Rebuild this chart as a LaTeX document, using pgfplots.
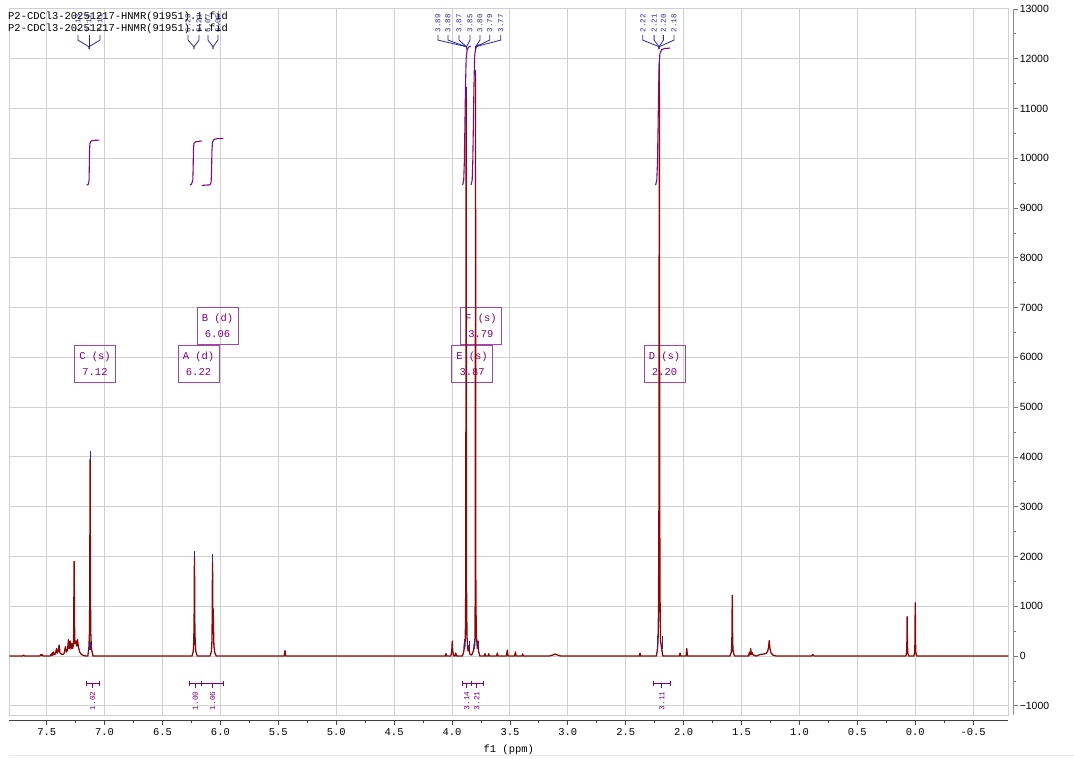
\documentclass[border=0pt]{standalone}
\usepackage{fontspec}
\setmainfont{Liberation Sans}
\setmonofont{Liberation Mono}
\usepackage{pgfplots}
\pgfplotsset{compat=1.18}
\definecolor{spec}{RGB}{140,8,8}
\definecolor{integ}{RGB}{128,10,128}
\definecolor{purp}{RGB}{128,0,128}
\definecolor{boxc}{RGB}{165,70,165}
\definecolor{blu}{RGB}{40,40,155}
\definecolor{gridc}{RGB}{208,208,208}
\tikzset{
  toplab/.style={rotate=90, anchor=west, text=blu, font=\ttfamily\fontsize{7.5}{9}\selectfont, inner sep=0.5bp},
  intlab/.style={rotate=90, anchor=east, text=purp, font=\ttfamily\fontsize{7.8}{9}\selectfont, inner sep=0.5bp},
  fork/.style={blu, line width=0.8bp},
  brk/.style={purp, line width=0.9bp},
  abox/.style={draw=boxc, line width=0.9bp, text=purp, font=\ttfamily\fontsize{10.5}{16}\selectfont, align=center, minimum width=41bp, minimum height=37bp, inner sep=1bp},
}
\begin{document}
\begin{tikzpicture}
\useasboundingbox (-9.3bp,-44bp) rectangle (1064.7bp,715bp);
\draw[gridc!50, line width=0.8bp] (-0.5bp,-40bp) -- (1064.7bp,-40bp);
\begin{axis}[
  at={(0,0)}, anchor=south west,
  scale only axis, width=999bp, height=706bp,
  x dir=reverse, xmin=-0.803, xmax=7.823, ymin=-1185, ymax=13000,
  axis x line=bottom, axis y line=right,
  axis x line shift=5bp, axis y line shift=5bp,
  axis line style={-},
  x axis line style={draw=black!75, line width=1bp},
  y axis line style={draw=black!45, line width=1.5bp},
  scaled y ticks=false, scaled x ticks=false,
  xtick={-0.5,0,0.5,1,1.5,2,2.5,3,3.5,4,4.5,5,5.5,6,6.5,7,7.5},
  xticklabels={-0.5,0.0,0.5,1.0,1.5,2.0,2.5,3.0,3.5,4.0,4.5,5.0,5.5,6.0,6.5,7.0,7.5},
  ytick={-1000,0,1000,2000,3000,4000,5000,6000,7000,8000,9000,10000,11000,12000,13000},
  yticklabels={−1000,0,1000,2000,3000,4000,5000,6000,7000,8000,9000,10000,11000,12000,13000},
  minor x tick num=1, minor y tick num=1,
  tick align=outside, major tick length=5bp, minor tick length=3bp,
  x tick style={draw=black!75, line width=0.8bp},
  y tick style={draw=black!55, line width=0.8bp},
  xticklabel style={font=\ttfamily\fontsize{10.5}{12}\selectfont},
  yticklabel style={font=\fontsize{10.5}{12}\selectfont, xshift=-2bp},
  xlabel={f1 (ppm)}, xlabel style={font=\ttfamily\fontsize{10.5}{12}\selectfont, yshift=-2bp},
  grid=major, major grid style={draw=gridc, line width=1bp},
  clip=false,
]
% plot frame
\draw[gridc, line width=1bp] (rel axis cs:0,0) rectangle (rel axis cs:1,1);

% annotation boxes
\node[abox] at (axis cs:7.083,5876) {C (s)\\7.12};
\node[abox] at (axis cs:6.189,5876) {A (d)\\6.22};
\node[abox] at (axis cs:6.025,6630) {B (d)\\6.06};
\node[abox] at (axis cs:3.827,5876) {E (s)\\3.87};
\node[abox] at (axis cs:3.750,6636) {F (s)\\3.79};
\node[abox] at (axis cs:2.165,5876) {D (s)\\2.20};

% spectrum
\addplot[spec, line width=1.3bp, line join=round] coordinates {
(7.823,0) (7.71,0) (7.70,20) (7.69,0) (7.56,0) (7.55,30) (7.545,8) (7.54,30) (7.53,0)
(7.47,0) (7.46,40) (7.455,10) (7.45,70) (7.445,20) (7.44,80) (7.435,30) (7.425,40)
(7.415,150) (7.408,60) (7.40,100) (7.393,220) (7.385,60) (7.375,40) (7.36,30) (7.35,50)
(7.338,190) (7.33,80) (7.32,120) (7.312,330) (7.305,150) (7.297,300) (7.29,140) (7.282,250)
(7.275,150) (7.268,250) (7.266,700) (7.2645,1500) (7.263,1900) (7.2615,1500) (7.260,700) (7.257,250) (7.248,300)
(7.242,200) (7.234,330) (7.226,180) (7.215,80) (7.20,30) (7.18,10) (7.16,0)
(7.145,0) (7.136,150) (7.131,450) (7.128,1200) (7.1265,2900) (7.125,3950) (7.1235,2900) (7.122,1200) (7.119,450) (7.114,150) (7.10,0)
(6.245,0) (6.234,100) (6.230,300) (6.227,700) (6.2255,1500) (6.224,1990) (6.2225,1500) (6.221,700) (6.218,300) (6.213,100) (6.20,0)
(6.09,0) (6.077,100) (6.073,300) (6.071,700) (6.0695,1400) (6.068,1890) (6.0665,1400) (6.065,800) (6.0635,900) (6.062,950) (6.060,600) (6.056,200) (6.048,60) (6.035,0)
(5.45,0) (5.442,110) (5.436,0)
(4.058,0) (4.052,50) (4.046,0) (4.01,0) (4.002,100) (3.998,300) (3.994,100) (3.985,0)
(3.975,0) (3.968,60) (3.96,0)
(3.91,0) (3.898,100) (3.894,250) (3.890,150) (3.885,400) (3.881,1500) (3.8795,7000) (3.878,11350) (3.8765,7000) (3.875,1500) (3.871,400)
(3.862,100) (3.856,200) (3.852,120) (3.845,30) (3.83,20) (3.813,120) (3.808,250) (3.804,200)
(3.801,450) (3.7995,1600) (3.798,7000) (3.797,11700) (3.796,7000) (3.7945,1600) (3.791,450) (3.781,150) (3.775,300) (3.771,100) (3.76,0)
(3.72,0) (3.715,50) (3.71,0) (3.688,0) (3.683,50) (3.678,0) (3.615,0) (3.609,60) (3.603,0)
(3.53,0) (3.523,120) (3.516,0) (3.46,0) (3.453,80) (3.446,0) (3.396,0) (3.390,40) (3.384,0)
(3.16,0) (3.13,20) (3.11,40) (3.09,20) (3.06,0)
(2.383,0) (2.377,60) (2.371,0)
(2.235,0) (2.226,150) (2.221,300) (2.217,900) (2.2135,3000) (2.2115,8000) (2.210,11900) (2.2085,8000) (2.2065,3000) (2.203,900) (2.199,300) (2.190,150) (2.18,0)
(2.037,0) (2.031,60) (2.025,0) (1.979,0) (1.973,150) (1.967,0)
(1.60,0) (1.588,80) (1.584,250) (1.582,600) (1.581,1000) (1.580,1220) (1.579,1000) (1.578,600) (1.576,250) (1.572,80) (1.56,0)
(1.44,0) (1.433,70) (1.428,20) (1.421,150) (1.416,30) (1.409,70) (1.403,30) (1.39,10) (1.37,0)
(1.34,30) (1.31,40) (1.29,50) (1.275,90) (1.267,170) (1.261,310) (1.255,150) (1.245,60) (1.23,20) (1.20,0)
(0.895,0) (0.885,30) (0.875,0)
(0.08,0) (0.075,80) (0.072,300) (0.071,600) (0.070,790) (0.069,600) (0.068,300) (0.065,80) (0.058,0)
(0.012,0) (0.005,80) (0.002,300) (0.001,800) (0.000,1070) (-0.001,800) (-0.002,300) (-0.005,80) (-0.012,0) (-0.803,0)
};

% integral curves
\addplot[integ, line width=1.1bp] coordinates {(7.155,9462) (7.140,9480) (7.134,9560) (7.132,9850) (7.130,10150) (7.127,10290) (7.120,10340) (7.100,10360) (7.046,10366)};
\addplot[integ, line width=1.1bp] coordinates {(6.263,9462) (6.250,9480) (6.238,9560) (6.235,9850) (6.233,10150) (6.229,10300) (6.215,10330) (6.161,10350)};
\addplot[integ, line width=1.1bp] coordinates {(6.161,9456) (6.090,9466) (6.080,9520) (6.076,9800) (6.073,10150) (6.068,10330) (6.055,10380) (6.030,10395) (5.975,10400)};
\addplot[integ, line width=1.1bp] coordinates {(3.908,9462) (3.899,9560) (3.894,9900) (3.889,10600) (3.884,11400) (3.878,12000) (3.870,12170) (3.859,12230) (3.839,12255)};
\addplot[integ, line width=1.1bp] coordinates {(3.836,9462) (3.826,9560) (3.821,9900) (3.816,10600) (3.811,11400) (3.805,12050) (3.797,12190) (3.787,12250) (3.767,12280)};
\addplot[integ, line width=1.1bp] coordinates {(2.242,9462) (2.232,9560) (2.226,9900) (2.221,10600) (2.216,11400) (2.211,11900) (2.205,12100) (2.190,12185) (2.165,12205) (2.117,12215)};

% peak-pick markers
\addplot[blu, line width=1bp, unbounded coords=jump] coordinates {
(7.125,3950) (7.125,4120) (7.125,nan)
(6.224,1990) (6.224,2120) (6.224,nan)
(6.068,1890) (6.068,2050) (6.068,nan)
(3.878,11230) (3.878,11430) (3.878,nan)
(3.797,11630) (3.797,11770) (3.797,nan)
(2.210,11830) (2.210,11930) (2.210,nan)
(7.132,130) (7.132,280) (7.132,nan)
(7.118,130) (7.118,280) (7.118,nan)
(3.894,150) (3.894,350) (3.894,nan)
(3.853,150) (3.853,300) (3.853,nan)
(3.807,150) (3.807,350) (3.807,nan)
(3.773,150) (3.773,300) (3.773,nan)
(2.224,150) (2.224,400) (2.224,nan)
(2.184,150) (2.184,400)
};

% top peak labels with forks
\foreach \lx/\cx/\t in {7.230/7.135/7.13, 7.135/7.135/7.12, 7.040/7.135/7.11,
  6.280/6.228/6.23, 6.185/6.228/6.21, 6.107/6.064/6.07, 6.021/6.064/6.05,
  4.121/3.875/3.89, 4.035/3.875/3.88, 3.940/3.875/3.87, 3.845/3.875/3.85,
  3.759/3.797/3.80, 3.674/3.797/3.79, 3.579/3.797/3.77,
  2.353/2.212/2.22, 2.255/2.212/2.21, 2.175/2.212/2.20, 2.083/2.212/2.18}{
  \edef\tmp{\noexpand\node[toplab] at (axis cs:\lx,12516) {\t};
  \noexpand\draw[fork] (axis cs:\lx,12476) -- (axis cs:\lx,12375) -- (axis cs:\cx,12241) -- (axis cs:\cx,12195);}
  \tmp
}

% integration brackets
\foreach \a/\b/\c/\v in {7.160/7.046/7.103/1.02, 6.269/6.166/6.217/1.00, 6.166/5.975/6.067/1.06,
  3.911/3.830/3.873/3.14, 3.830/3.730/3.787/3.21, 2.262/2.117/2.189/3.11}{
  \edef\tmp{\noexpand\draw[brk] (axis cs:\a,-548) -- (axis cs:\b,-548);
  \noexpand\draw[brk] (axis cs:\a,-496) -- (axis cs:\a,-603);
  \noexpand\draw[brk] (axis cs:\b,-496) -- (axis cs:\b,-603);
  \noexpand\draw[brk] (axis cs:\c,-548) -- (axis cs:\c,-649);
  \noexpand\node[intlab] at (axis cs:\c,-700) {\v};}
  \tmp
}
\end{axis}
\node[anchor=base west, inner sep=0, font=\ttfamily\fontsize{10.5}{12}\selectfont] at (-1.3bp,695bp) {P2-CDCl3-20251217-HNMR(91951).1.fid};
\node[anchor=base west, inner sep=0, font=\ttfamily\fontsize{10.5}{12}\selectfont] at (-1.3bp,683.5bp) {P2-CDCl3-20251217-HNMR(91951).1.fid};
\end{tikzpicture}
\end{document}
